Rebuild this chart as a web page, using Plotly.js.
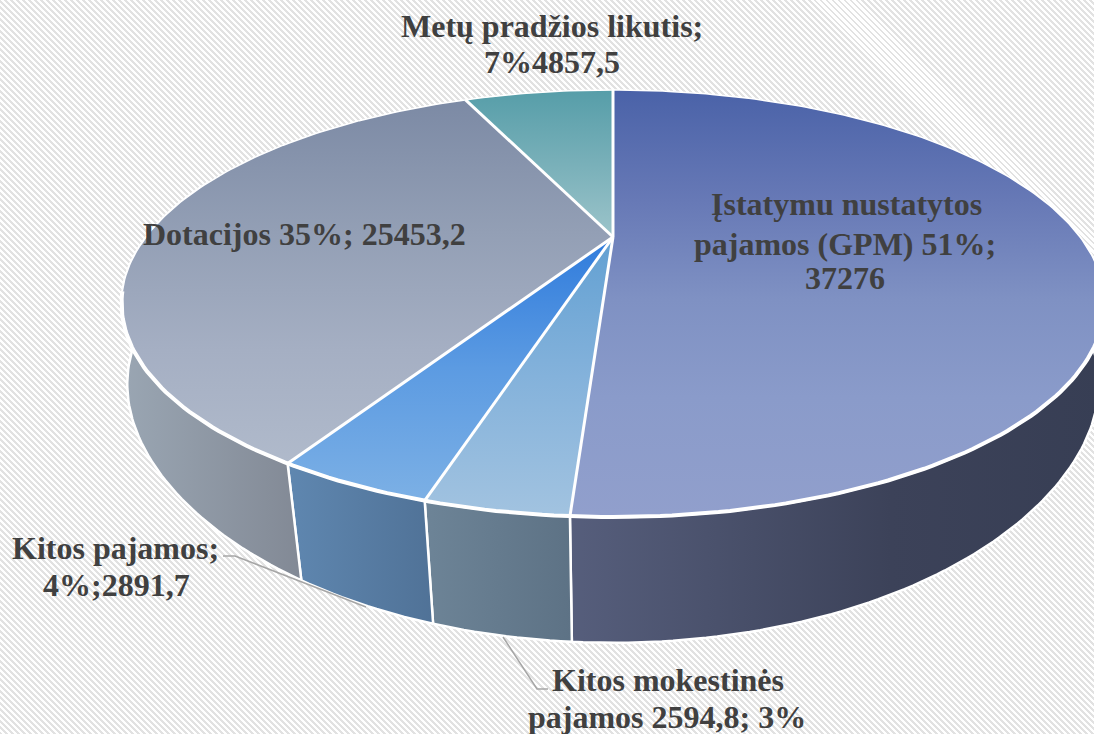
<!DOCTYPE html>
<html><head><meta charset="utf-8">
<script src="https://cdn.plot.ly/plotly-3.0.1.min.js"></script>
<style>
html,body{margin:0;padding:0;width:1094px;height:734px;overflow:hidden;
background:repeating-linear-gradient(45deg,#e2e2e2 0,#e2e2e2 2.1px,#ffffff 2.1px,#ffffff 4.24px);}
#c{width:1094px;height:734px;}
</style></head><body><div id="c"></div>
<script>
const categories=['Įstatymu nustatytos pajamos (GPM)','Kitos mokestinės pajamos','Kitos pajamos','Dotacijos','Metų pradžios likutis'];
const values=[37276,2594.8,2891.7,25453.2,4857.5];
const topColors=[
 [[0,'#4a62a8'],[0.26,'#6779b6'],[0.49,'#7f91c3'],[0.72,'#8a9bca'],[1,'#919fcc']],
 [[0,'#62a0d2'],[0.5,'#84b2db'],[1,'#a2c3e0']],
 [[0,'#2f7bdc'],[0.5,'#5c9be2'],[1,'#7cb0e5']],
 [[0,'#7b89a4'],[0.37,'#939fb5'],[0.69,'#a5afc3'],[1,'#b0bacb']],
 [[0,'#579ea9'],[0.5,'#79b0b9'],[1,'#9cc4ca']]];
const topGrad=[[90,517],[237,517],[237,500],[95,465],[92,237]];
const sideColors=[
 [[0,'#565e7c'],[0.6,'#3c4259'],[1,'#373e54']],
 [[0,'#6d8497'],[1,'#5d7285']],
 [[0,'#5f87b0'],[1,'#507297']],
 [[0,'#9aa6b3'],[1,'#828995']],
 [[0,'#9aa6b3'],[1,'#828995']]];
const labelLines=[
 {t:'Įstatymu nustatytos',x:846,y:204},{t:'pajamos (GPM) 51%;',x:845,y:244},{t:'37276',x:845,y:278},
 {t:'Kitos mokestinės',x:668,y:680},{t:'pajamos 2594,8; 3%',x:667,y:717},
 {t:'Kitos pajamos;',x:115,y:548},{t:'4%;2891,7',x:116,y:585},
 {t:'Dotacijos 35%; 25453,2',x:304,y:234},
 {t:'Metų pradžios likutis;',x:552,y:26},{t:'7%4857,5',x:552,y:62}];
const leaderA={x:[223,235,366],y:[556,556,607]};
const leaderB={x:[503,537,548],y:[637,689,689]};

const cx=613,cy=237,k=0.3115,A=192.8,B=467;
const total=values.reduce((a,b)=>a+b,0);
const rad=d=>d*Math.PI/180;
function topPt(deg){const X=Math.sin(rad(deg)),Y=Math.cos(rad(deg)),D=1+k*Y;return [cx+B*X/D,cy-A*Y/D];}
function botPt(deg){const X=Math.sin(rad(deg)),Y=Math.cos(rad(deg)),D=1+k*Y;
 const s=0.955+0.04*Math.pow(Math.abs(X),4);
 return [cx+s*B*X/D,316-1.167*A*Y/D];}
function range(a,b){const n=Math.max(2,Math.ceil(Math.abs(b-a)));const o=[];for(let i=0;i<=n;i++)o.push(a+(b-a)*i/n);return o;}
function lineTrace(pts,w){return {type:'scatter',mode:'lines',x:pts.map(p=>p[0]),y:pts.map(p=>p[1]),line:{color:'#ffffff',width:w},hoverinfo:'skip',showlegend:false};}
let cum=0;const starts=values.map(v=>{const s=cum;cum+=v/total*360;return s;});
const ends=values.map((v,i)=>starts[i]+v/total*360);
const traces=[];
values.forEach((v,i)=>{
 const a=Math.max(starts[i],72),b=Math.min(ends[i],288);
 if(b<=a)return;
 const arc=range(a,b),tp=arc.map(topPt),bp=arc.slice().reverse().map(botPt);
 const pts=tp.concat(bp);pts.push(tp[0]);
 const xs=pts.map(p=>p[0]);
 traces.push({type:'scatter',mode:'lines',x:pts.map(p=>p[0]),y:pts.map(p=>p[1]),fill:'toself',
  line:{color:'#ffffff',width:2.5},
  fillgradient:{type:'horizontal',start:Math.min(...xs),stop:Math.max(...xs),colorscale:sideColors[i]},
  hoverinfo:'skip',showlegend:false});
});
values.forEach((v,i)=>{
 const arc=range(starts[i],ends[i]),tp=arc.map(topPt);
 const pts=[[cx,cy]].concat(tp);pts.push([cx,cy]);
 traces.push({type:'scatter',mode:'lines',x:pts.map(p=>p[0]),y:pts.map(p=>p[1]),fill:'toself',name:categories[i],
  line:{color:'rgba(255,255,255,0)',width:0},
  fillgradient:{type:'vertical',start:topGrad[i][0],stop:topGrad[i][1],colorscale:topColors[i]},
  hoverinfo:'skip',showlegend:false});
});
// white edges: thin at the back of the rim, heavier at the front
starts.forEach(s=>traces.push(lineTrace([[cx,cy],topPt(s)],3)));
traces.push(lineTrace(range(255,465).map(topPt),1.5));
traces.push(lineTrace(range(105,255).map(topPt),4));
[leaderA,leaderB].forEach(l=>traces.push({type:'scatter',mode:'lines',x:l.x,y:l.y,line:{color:'#a6a6a6',width:1.5},hoverinfo:'skip',showlegend:false}));
const layout={width:1094,height:734,margin:{l:0,r:0,t:0,b:0},paper_bgcolor:'rgba(0,0,0,0)',plot_bgcolor:'rgba(0,0,0,0)',
 xaxis:{range:[0,1094],visible:false,fixedrange:true},yaxis:{range:[734,0],visible:false,fixedrange:true},
 annotations:labelLines.map(l=>({text:'<b>'+l.t+'</b>',x:l.x,y:l.y,xref:'x',yref:'y',showarrow:false,xanchor:'center',yanchor:'middle',
  font:{family:'"Liberation Serif",serif',size:32,color:'#404040'}}))};
Plotly.newPlot('c',traces,layout,{displayModeBar:false,staticPlot:true});
</script></body></html>
